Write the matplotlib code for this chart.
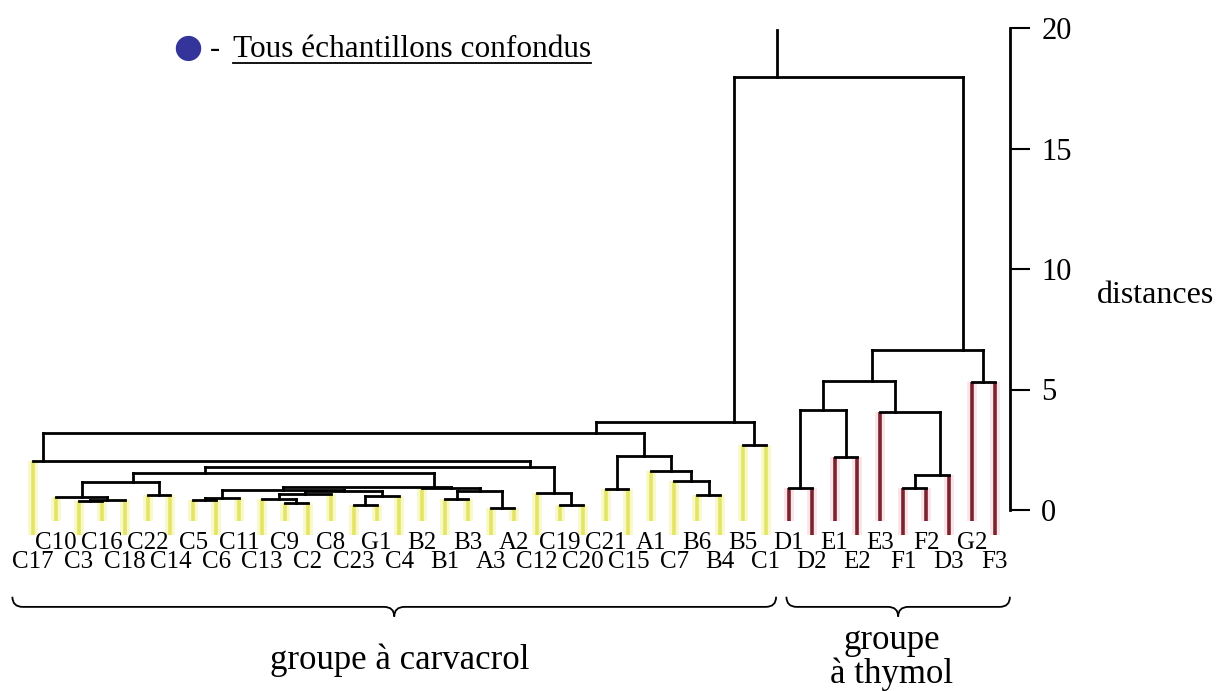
import matplotlib
matplotlib.use('Agg')
import matplotlib.pyplot as plt
from matplotlib.path import Path
from matplotlib.patches import PathPatch
from matplotlib.lines import Line2D

plt.rcParams['font.family'] = ['Liberation Serif', 'DejaVu Serif']

# leaf order, left to right
leaves = ['C17', 'C10', 'C3', 'C16', 'C18', 'C22', 'C14', 'C5', 'C6', 'C11',
          'C13', 'C9', 'C2', 'C8', 'C23', 'G1', 'C4', 'B2', 'B1', 'B3',
          'A3', 'A2', 'C12', 'C19', 'C20', 'C21', 'C15', 'A1', 'C7', 'B6',
          'B4', 'B5', 'C1',
          'D1', 'D2', 'E1', 'E2', 'E3', 'F1', 'F2', 'D3', 'G2', 'F3']
n_carvacrol = 33  # first 33 leaves = groupe a carvacrol

# merges: (new cluster, left, right, distance)
merges = [
    ('c3_16', 'C3', 'C16', 0.38),
    ('c3_18', 'c3_16', 'C18', 0.42),
    ('c10_18', 'C10', 'c3_18', 0.55),
    ('c22_14', 'C22', 'C14', 0.62),
    ('p', 'c10_18', 'c22_14', 1.15),
    ('c5_6', 'C5', 'C6', 0.42),
    ('c5_11', 'c5_6', 'C11', 0.48),
    ('c9_2', 'C9', 'C2', 0.30),
    ('c13_2', 'C13', 'c9_2', 0.45),
    ('c13_8', 'c13_2', 'C8', 0.65),
    ('c23_g1', 'C23', 'G1', 0.20),
    ('c23_4', 'c23_g1', 'C4', 0.60),
    ('q1b', 'c13_8', 'c23_4', 0.80),
    ('q1', 'c5_11', 'q1b', 0.85),
    ('b1_3', 'B1', 'B3', 0.45),
    ('a3_2', 'A3', 'A2', 0.08),
    ('b1_a2', 'b1_3', 'a3_2', 0.80),
    ('q2', 'B2', 'b1_a2', 0.90),
    ('q', 'q1', 'q2', 0.95),
    ('y', 'p', 'q', 1.53),
    ('c19_20', 'C19', 'C20', 0.20),
    ('c12_20', 'C12', 'c19_20', 0.70),
    ('x', 'y', 'c12_20', 1.78),
    ('l', 'C17', 'x', 2.03),
    ('c21_15', 'C21', 'C15', 0.87),
    ('b6_4', 'B6', 'B4', 0.62),
    ('c7_4', 'C7', 'b6_4', 1.20),
    ('a1_4', 'A1', 'c7_4', 1.60),
    ('r1', 'c21_15', 'a1_4', 2.25),
    ('a', 'l', 'r1', 3.20),
    ('b5_1', 'B5', 'C1', 2.70),
    ('carvacrol', 'a', 'b5_1', 3.65),
    ('d1_2', 'D1', 'D2', 0.90),
    ('e1_2', 'E1', 'E2', 2.20),
    ('de', 'd1_2', 'e1_2', 4.15),
    ('f1_2', 'F1', 'F2', 0.90),
    ('f_d3', 'f1_2', 'D3', 1.45),
    ('e3_f', 'E3', 'f_d3', 4.07),
    ('th1', 'de', 'e3_f', 5.37),
    ('g2_f3', 'G2', 'F3', 5.33),
    ('thymol', 'th1', 'g2_f3', 6.62),
    ('root', 'carvacrol', 'thymol', 17.95),
]
root_top = 19.9
dist_ticks = [0, 5, 10, 15, 20]

# where the upward stem sits along a merge bar (0 = left child, 1 = right)
# the original drawing does not always centre it
stem_frac = {'p': 0.66, 'q': 0.9, 'y': 0.24, 'x': 0.93, 'l': 0.02,
             'a': 0.92, 'carvacrol': 0.87, 'e3_f': 0.24, 'f_d3': 0.73,
             'th1': 0.69, 'thymol': 0.82, 'root': 0.19}

yellow, yellow_halo = '#e4e466', '#f9f9c8'
red, red_halo = '#7a2430', '#fbe4e8'
lw_link = 2.0

fig = plt.figure(figsize=(12.27, 6.91), dpi=100)
ax = fig.add_axes([0, 0, 1, 1])
ax.set_xlim(-33 / 22.9, (1227 - 33) / 22.9)
ax.set_ylim(-(691 - 510) / 24.1, 510 / 24.1)

pos = {name: i for i, name in enumerate(leaves)}
hgt = {name: 0.0 for name in leaves}

for name, a, b, h in merges:
    pos[name] = pos[a] + stem_frac.get(name, 0.5) * (pos[b] - pos[a])
    hgt[name] = h
    ax.plot([pos[a], pos[b]], [h, h], color='black', lw=lw_link,
            solid_capstyle='projecting', zorder=3)
    for child in (a, b):
        if child in leaves:
            i = leaves.index(child)
            bottom = -0.45 if i % 2 else -1.04
            col, halo = (yellow, yellow_halo) if i < n_carvacrol else (red, red_halo)
            ax.plot([pos[child]] * 2, [bottom, h], color=halo, lw=7,
                    solid_capstyle='butt', zorder=1)
            ax.plot([pos[child]] * 2, [bottom, h], color=col, lw=2.6,
                    solid_capstyle='butt', zorder=2)
        else:
            ax.plot([pos[child]] * 2, [hgt[child], h], color='black',
                    lw=lw_link, zorder=3)

ax.plot([pos['root']] * 2, [hgt['root'], root_top], color='black',
        lw=lw_link, zorder=3)

# leaf labels on two rows
for i, name in enumerate(leaves):
    ax.text(i, -1.37 if i % 2 else -2.16, name, ha='center', va='center',
            fontsize=18)

# distance axis on the right
axis_x = len(leaves) - 1 + 0.66
for s in ['left', 'top', 'bottom']:
    ax.spines[s].set_visible(False)
ax.spines['right'].set_position(('data', axis_x))
ax.spines['right'].set_bounds(0, 20)
ax.spines['right'].set_linewidth(2.0)
ax.set_xticks([])
ax.set_yticks(dist_ticks)
ax.yaxis.set_ticks_position('right')
ax.tick_params(axis='y', direction='out', length=14.5, width=1.5, pad=8,
               labelsize=22)
ax.text(axis_x + 3.8, 8.6, 'distances', ha='left', va='baseline', fontsize=23)


# curly braces under the two groups
def brace(x0, x1, ytop=-3.6, ymid=-4.02, ytip=-4.42, w=0.45):
    xm = (x0 + x1) / 2
    verts = [(x0, ytop), (x0, ymid), (x0 + w, ymid),
             (xm - w, ymid), (xm, ymid), (xm, ytip),
             (xm, ymid), (xm + w, ymid),
             (x1 - w, ymid), (x1, ymid), (x1, ytop)]
    codes = [Path.MOVETO, Path.CURVE3, Path.CURVE3,
             Path.LINETO, Path.CURVE3, Path.CURVE3,
             Path.CURVE3, Path.CURVE3,
             Path.LINETO, Path.CURVE3, Path.CURVE3]
    ax.add_patch(PathPatch(Path(verts, codes), fill=False, lw=1.3,
                           edgecolor='black'))


brace(-0.9, n_carvacrol - 1 + 0.45)
brace(n_carvacrol - 0.1, axis_x)
ax.text((n_carvacrol - 1) / 2, -6.22, 'groupe à carvacrol', ha='center',
        va='center', fontsize=25)
ax.text((n_carvacrol + len(leaves) - 1) / 2, -6.12, 'groupe\nà thymol',
        ha='center', va='center', fontsize=25, linespacing=1.0)

# legend line
fig.text(188 / 1227, 1 - 47 / 691, '●', color='#34349a', fontsize=24,
         ha='center', va='center', family='DejaVu Sans')
fig.text(215 / 1227, 1 - 57 / 691, '-', fontsize=22, ha='center',
         va='baseline')
leg = fig.text(233 / 1227, 1 - 57 / 691, 'Tous échantillons confondus',
               fontsize=22.5, ha='left', va='baseline')
fig.canvas.draw()
bb = leg.get_window_extent().transformed(fig.transFigure.inverted())
fig.add_artist(Line2D([bb.x0, bb.x1], [1 - 63 / 691] * 2, color='black',
                      lw=1.3))

fig.savefig('out.png', dpi=100)
